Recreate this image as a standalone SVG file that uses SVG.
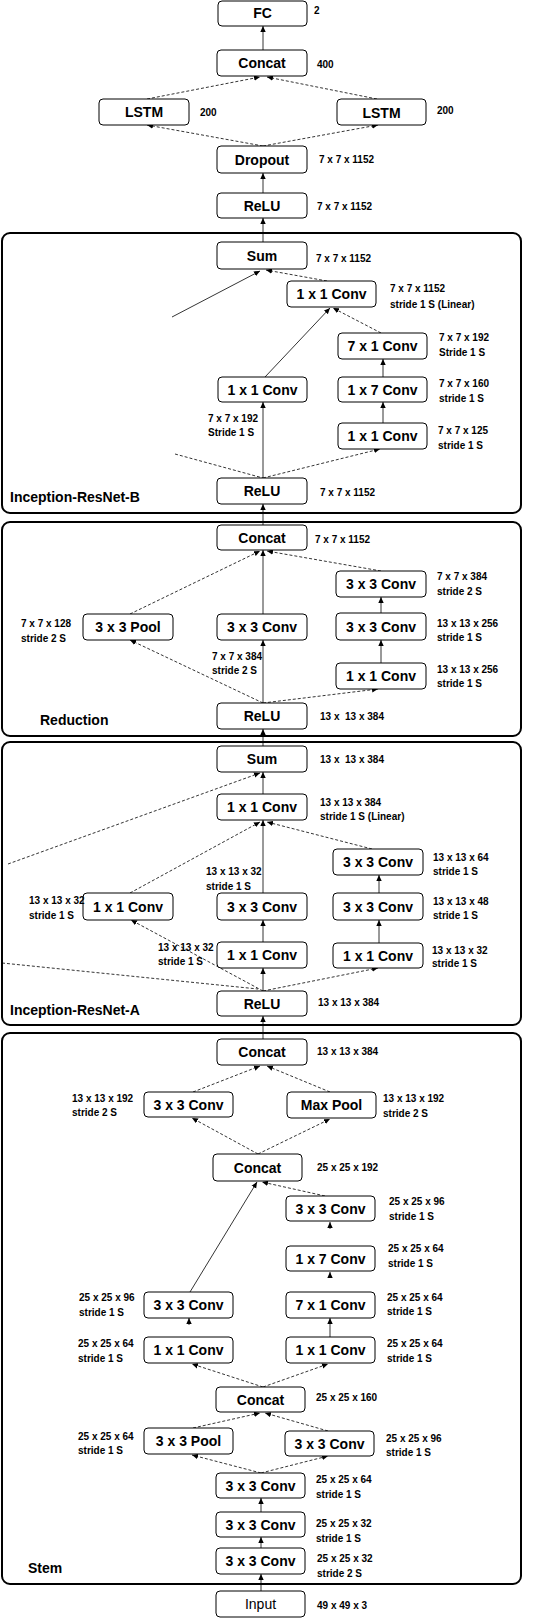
<svg xmlns="http://www.w3.org/2000/svg" width="544" height="1618" viewBox="0 0 544 1618">
<style>
.blk{fill:none;stroke:#000;stroke-width:2}
.n rect{fill:#fff;stroke:#000;stroke-width:1}
.t{font-family:"Liberation Sans",Arial,sans-serif;font-weight:bold;font-size:14px;text-anchor:middle}
.tn{font-family:"Liberation Sans",Arial,sans-serif;font-size:14px;text-anchor:middle}
.l{font-family:"Liberation Sans",Arial,sans-serif;font-weight:bold;font-size:10px}
.h{font-family:"Liberation Sans",Arial,sans-serif;font-weight:bold;font-size:14px}
.s{stroke:#000;stroke-width:0.8;fill:none;marker-end:url(#a)}
.d{stroke:#000;stroke-width:0.8;fill:none;stroke-dasharray:3 2;marker-end:url(#a)}
.dn{stroke:#000;stroke-width:0.8;fill:none;stroke-dasharray:3 2}
.sn{stroke:#000;stroke-width:0.8;fill:none}
</style>
<defs>
<marker id="a" viewBox="0 0 10 10" refX="10" refY="5" markerWidth="6" markerHeight="6" markerUnits="userSpaceOnUse" orient="auto"><path d="M0,0.5 L10,5 L0,9.5 z" fill="#000"/></marker>
</defs>
<rect width="544" height="1618" fill="#fff"/>

<g id="blocks">
<rect class="blk" x="2" y="233" width="519" height="280" rx="8"/>
<rect class="blk" x="2" y="522" width="519" height="214" rx="8"/>
<rect class="blk" x="2" y="742" width="519" height="283" rx="8"/>
<rect class="blk" x="2" y="1033" width="519" height="551" rx="8"/>
<text class="h" x="10" y="502">Inception-ResNet-B</text>
<text class="h" x="40" y="725">Reduction</text>
<text class="h" x="10" y="1015">Inception-ResNet-A</text>
<text class="h" x="28" y="1573">Stem</text>
</g>

<g id="connectors">
<!-- top -->
<line class="s" x1="263" y1="50" x2="263" y2="26"/>
<line class="d" x1="147" y1="99" x2="260" y2="77"/>
<line class="d" x1="377" y1="99" x2="267" y2="77"/>
<line class="d" x1="263" y1="146" x2="147" y2="125"/>
<line class="d" x1="263" y1="146" x2="378" y2="125"/>
<line class="s" x1="263" y1="193" x2="263" y2="173"/>
<line class="s" x1="263" y1="242" x2="263" y2="218"/>
<!-- block B -->
<line class="d" x1="327" y1="281" x2="266" y2="270"/>
<line class="s" x1="172" y1="317" x2="260" y2="271"/>
<line class="dn" x1="175" y1="454" x2="263" y2="478"/>
<line class="s" x1="265" y1="377" x2="330" y2="308"/>
<line class="d" x1="381" y1="333" x2="333" y2="308"/>
<line class="s" x1="383" y1="377" x2="383" y2="359"/>
<line class="s" x1="383" y1="423" x2="383" y2="402"/>
<line class="s" x1="263" y1="478" x2="263" y2="402"/>
<line class="d" x1="263" y1="478" x2="380" y2="449"/>
<line class="s" x1="263" y1="525" x2="263" y2="504"/>
<!-- reduction -->
<line class="d" x1="130" y1="614" x2="260" y2="551"/>
<line class="s" x1="263" y1="614" x2="263" y2="550"/>
<line class="d" x1="381" y1="571" x2="267" y2="551"/>
<line class="s" x1="381" y1="613" x2="381" y2="597"/>
<line class="s" x1="381" y1="663" x2="381" y2="640"/>
<line class="d" x1="263" y1="703" x2="130" y2="640"/>
<line class="s" x1="263" y1="703" x2="263" y2="640"/>
<line class="d" x1="263" y1="703" x2="378" y2="689"/>
<line class="s" x1="263" y1="746" x2="263" y2="729"/>
<!-- block A -->
<line class="s" x1="263" y1="794" x2="263" y2="772"/>
<line class="d" x1="8" y1="864" x2="260" y2="773"/>
<line class="dn" x1="2" y1="963" x2="258" y2="989"/>
<line class="d" x1="130" y1="893" x2="260" y2="822"/>
<line class="s" x1="263" y1="893" x2="263" y2="820"/>
<line class="d" x1="372" y1="849" x2="267" y2="822"/>
<line class="s" x1="379" y1="893" x2="379" y2="875"/>
<line class="s" x1="379" y1="943" x2="379" y2="920"/>
<line class="s" x1="263" y1="942" x2="263" y2="920"/>
<line class="d" x1="263" y1="991" x2="131" y2="920"/>
<line class="s" x1="263" y1="991" x2="263" y2="968"/>
<line class="d" x1="263" y1="991" x2="378" y2="968"/>
<line class="s" x1="263" y1="1039" x2="263" y2="1016"/>
<!-- stem -->
<line class="d" x1="193" y1="1092" x2="260" y2="1066"/>
<line class="d" x1="330" y1="1092" x2="267" y2="1066"/>
<line class="d" x1="258" y1="1154" x2="192" y2="1118"/>
<line class="d" x1="258" y1="1154" x2="330" y2="1119"/>
<line class="s" x1="190" y1="1292" x2="257" y2="1182"/>
<line class="d" x1="325" y1="1196" x2="262" y2="1182"/>
<line class="s" x1="330" y1="1229" x2="330" y2="1222"/>
<line class="s" x1="330" y1="1278" x2="330" y2="1272"/>
<line class="s" x1="189" y1="1325" x2="189" y2="1318"/>
<line class="s" x1="330" y1="1337" x2="330" y2="1318"/>
<line class="d" x1="263" y1="1387" x2="192" y2="1364"/>
<line class="d" x1="263" y1="1387" x2="328" y2="1364"/>
<line class="d" x1="193" y1="1428" x2="260" y2="1413"/>
<line class="d" x1="328" y1="1431" x2="265" y2="1413"/>
<line class="d" x1="261" y1="1473" x2="192" y2="1455"/>
<line class="d" x1="261" y1="1473" x2="328" y2="1456"/>
<line class="s" x1="261" y1="1512" x2="261" y2="1498"/>
<line class="s" x1="261" y1="1548" x2="261" y2="1537"/>
<line class="s" x1="261" y1="1591" x2="261" y2="1574"/>
</g>

<!-- top nodes -->
<g id="fc" class="n"><rect x="218" y="1" width="89" height="25" rx="4"/><text class="t" x="262.5" y="18">FC</text><text class="l" x="314" y="14">2</text></g>
<g id="concat_top" class="n"><rect x="217" y="50" width="90" height="26" rx="4"/><text class="t" x="262" y="68">Concat</text><text class="l" x="317" y="68">400</text></g>
<g id="lstm_l" class="n"><rect x="99" y="99" width="90" height="26" rx="4"/><text class="t" x="144" y="117">LSTM</text><text class="l" x="200" y="116">200</text></g>
<g id="lstm_r" class="n"><rect x="337" y="99" width="89" height="26" rx="4"/><text class="t" x="381.5" y="118">LSTM</text><text class="l" x="437" y="114">200</text></g>
<g id="dropout" class="n"><rect x="217" y="146" width="90" height="27" rx="4"/><text class="t" x="262" y="165">Dropout</text><text class="l" x="319" y="163">7 x 7 x 1152</text></g>
<g id="relu_top" class="n"><rect x="217" y="193" width="90" height="25" rx="4"/><text class="t" x="262" y="211">ReLU</text><text class="l" x="317" y="210">7 x 7 x 1152</text></g>

<!-- block B -->
<g id="b_sum" class="n"><rect x="217" y="242" width="90" height="27" rx="4"/><text class="t" x="262" y="261">Sum</text><text class="l" x="316" y="262">7 x 7 x 1152</text></g>
<g id="b_lin" class="n"><rect x="287" y="281" width="89" height="26" rx="4"/><text class="t" x="331.5" y="299">1 x 1 Conv</text><text class="l" x="390" y="292">7 x 7 x 1152</text><text class="l" x="390" y="308">stride 1 S (Linear)</text></g>
<g id="b_7x1" class="n"><rect x="338" y="333" width="89" height="26" rx="4"/><text class="t" x="382.5" y="351">7 x 1 Conv</text><text class="l" x="439" y="341">7 x 7 x 192</text><text class="l" x="439" y="356">Stride 1 S</text></g>
<g id="b_1x1l" class="n"><rect x="218" y="377" width="89" height="25" rx="4"/><text class="t" x="262.5" y="395">1 x 1 Conv</text><text class="l" x="208" y="422">7 x 7 x 192</text><text class="l" x="208" y="436">Stride 1 S</text></g>
<g id="b_1x7" class="n"><rect x="338" y="377" width="89" height="25" rx="4"/><text class="t" x="382.5" y="395">1 x 7 Conv</text><text class="l" x="439" y="387">7 x 7 x 160</text><text class="l" x="439" y="402">stride 1 S</text></g>
<g id="b_1x1r" class="n"><rect x="338" y="423" width="89" height="26" rx="4"/><text class="t" x="382.5" y="441">1 x 1 Conv</text><text class="l" x="438" y="434">7 x 7 x 125</text><text class="l" x="438" y="449">stride 1 S</text></g>
<g id="b_relu" class="n"><rect x="217" y="478" width="90" height="26" rx="4"/><text class="t" x="262" y="496">ReLU</text><text class="l" x="320" y="496">7 x 7 x 1152</text></g>

<!-- reduction -->
<g id="r_concat" class="n"><rect x="217" y="525" width="90" height="25" rx="4"/><text class="t" x="262" y="543">Concat</text><text class="l" x="315" y="543">7 x 7 x 1152</text></g>
<g id="r_3x3t" class="n"><rect x="336" y="571" width="90" height="26" rx="4"/><text class="t" x="381" y="589">3 x 3 Conv</text><text class="l" x="437" y="580">7 x 7 x 384</text><text class="l" x="437" y="595">stride 2 S</text></g>
<g id="r_pool" class="n"><rect x="83" y="614" width="90" height="26" rx="4"/><text class="t" x="128" y="632">3 x 3 Pool</text><text class="l" x="21" y="627">7 x 7 x 128</text><text class="l" x="21" y="642">stride 2 S</text></g>
<g id="r_3x3m" class="n"><rect x="217" y="614" width="90" height="26" rx="4"/><text class="t" x="262" y="632">3 x 3 Conv</text><text class="l" x="212" y="660">7 x 7 x 384</text><text class="l" x="212" y="674">stride 2 S</text></g>
<g id="r_3x3r" class="n"><rect x="336" y="613" width="90" height="27" rx="4"/><text class="t" x="381" y="632">3 x 3 Conv</text><text class="l" x="437" y="627">13 x 13 x 256</text><text class="l" x="437" y="641">stride 1 S</text></g>
<g id="r_1x1" class="n"><rect x="336" y="663" width="90" height="26" rx="4"/><text class="t" x="381" y="681">1 x 1 Conv</text><text class="l" x="437" y="673">13 x 13 x 256</text><text class="l" x="437" y="687">stride 1 S</text></g>
<g id="r_relu" class="n"><rect x="217" y="703" width="90" height="26" rx="4"/><text class="t" x="262" y="721">ReLU</text><text class="l" x="320" y="720" xml:space="preserve">13 x  13 x 384</text></g>

<!-- block A -->
<g id="a_sum" class="n"><rect x="217" y="746" width="90" height="26" rx="4"/><text class="t" x="262" y="764">Sum</text><text class="l" x="320" y="763" xml:space="preserve">13 x  13 x 384</text></g>
<g id="a_lin" class="n"><rect x="217" y="794" width="90" height="26" rx="4"/><text class="t" x="262" y="812">1 x 1 Conv</text><text class="l" x="320" y="806">13 x 13 x 384</text><text class="l" x="320" y="820">stride 1 S (Linear)</text></g>
<g id="a_3x3t" class="n"><rect x="333" y="849" width="90" height="26" rx="4"/><text class="t" x="378" y="867">3 x 3 Conv</text><text class="l" x="433" y="861">13 x 13 x 64</text><text class="l" x="433" y="875">stride 1 S</text></g>
<g id="a_1x1l" class="n"><rect x="83" y="893" width="90" height="27" rx="4"/><text class="t" x="128" y="912">1 x 1 Conv</text><text class="l" x="29" y="904">13 x 13 x 32</text><text class="l" x="29" y="919">stride 1 S</text></g>
<g id="a_3x3m" class="n"><rect x="217" y="893" width="90" height="27" rx="4"/><text class="t" x="262" y="912">3 x 3 Conv</text><text class="l" x="206" y="875">13 x 13 x 32</text><text class="l" x="206" y="890">stride 1 S</text></g>
<g id="a_3x3r" class="n"><rect x="333" y="893" width="90" height="27" rx="4"/><text class="t" x="378" y="912">3 x 3 Conv</text><text class="l" x="433" y="905">13 x 13 x 48</text><text class="l" x="433" y="919">stride 1 S</text></g>
<g id="a_1x1m" class="n"><rect x="217" y="942" width="90" height="26" rx="4"/><text class="t" x="262" y="960">1 x 1 Conv</text><text class="l" x="158" y="951">13 x 13 x 32</text><text class="l" x="158" y="965">stride 1 S</text></g>
<g id="a_1x1r" class="n"><rect x="333" y="943" width="90" height="25" rx="4"/><text class="t" x="378" y="961">1 x 1 Conv</text><text class="l" x="432" y="954">13 x 13 x 32</text><text class="l" x="432" y="967">stride 1 S</text></g>
<g id="a_relu" class="n"><rect x="217" y="991" width="90" height="25" rx="4"/><text class="t" x="262" y="1009">ReLU</text><text class="l" x="318" y="1006">13 x 13 x 384</text></g>

<!-- stem -->
<g id="s_concat1" class="n"><rect x="217" y="1039" width="90" height="26" rx="4"/><text class="t" x="262" y="1057">Concat</text><text class="l" x="317" y="1055">13 x 13 x 384</text></g>
<g id="s_3x3a" class="n"><rect x="144" y="1092" width="89" height="25" rx="4"/><text class="t" x="188.5" y="1110">3 x 3 Conv</text><text class="l" x="72" y="1102">13 x 13 x 192</text><text class="l" x="72" y="1116">stride 2 S</text></g>
<g id="s_maxpool" class="n"><rect x="287" y="1092" width="89" height="26" rx="4"/><text class="t" x="331.5" y="1110">Max Pool</text><text class="l" x="383" y="1102">13 x 13 x 192</text><text class="l" x="383" y="1117">stride 2 S</text></g>
<g id="s_concat2" class="n"><rect x="213" y="1154" width="89" height="27" rx="4"/><text class="t" x="257.5" y="1173">Concat</text><text class="l" x="317" y="1171">25 x 25 x 192</text></g>
<g id="s_3x3r" class="n"><rect x="286" y="1196" width="89" height="25" rx="4"/><text class="t" x="330.5" y="1214">3 x 3 Conv</text><text class="l" x="389" y="1205">25 x 25 x 96</text><text class="l" x="389" y="1220">stride 1 S</text></g>
<g id="s_1x7" class="n"><rect x="286" y="1246" width="89" height="25" rx="4"/><text class="t" x="330.5" y="1264">1 x 7 Conv</text><text class="l" x="388" y="1252">25 x 25 x 64</text><text class="l" x="388" y="1267">stride 1 S</text></g>
<g id="s_7x1" class="n"><rect x="286" y="1292" width="89" height="26" rx="4"/><text class="t" x="330.5" y="1310">7 x 1 Conv</text><text class="l" x="387" y="1301">25 x 25 x 64</text><text class="l" x="387" y="1315">stride 1 S</text></g>
<g id="s_3x3l" class="n"><rect x="144" y="1292" width="89" height="26" rx="4"/><text class="t" x="188.5" y="1310">3 x 3 Conv</text><text class="l" x="79" y="1301">25 x 25 x 96</text><text class="l" x="79" y="1316">stride 1 S</text></g>
<g id="s_1x1l" class="n"><rect x="144" y="1337" width="89" height="26" rx="4"/><text class="t" x="188.5" y="1355">1 x 1 Conv</text><text class="l" x="78" y="1347">25 x 25 x 64</text><text class="l" x="78" y="1362">stride 1 S</text></g>
<g id="s_1x1r" class="n"><rect x="286" y="1337" width="89" height="26" rx="4"/><text class="t" x="330.5" y="1355">1 x 1 Conv</text><text class="l" x="387" y="1347">25 x 25 x 64</text><text class="l" x="387" y="1362">stride 1 S</text></g>
<g id="s_concat3" class="n"><rect x="216" y="1387" width="89" height="25" rx="4"/><text class="t" x="260.5" y="1405">Concat</text><text class="l" x="316" y="1401">25 x 25 x 160</text></g>
<g id="s_pool" class="n"><rect x="144" y="1428" width="89" height="26" rx="4"/><text class="t" x="188.5" y="1446">3 x 3 Pool</text><text class="l" x="78" y="1440">25 x 25 x 64</text><text class="l" x="78" y="1454">stride 1 S</text></g>
<g id="s_3x3b" class="n"><rect x="285" y="1431" width="89" height="25" rx="4"/><text class="t" x="329.5" y="1449">3 x 3 Conv</text><text class="l" x="386" y="1442">25 x 25 x 96</text><text class="l" x="386" y="1456">stride 1 S</text></g>
<g id="s_conv3" class="n"><rect x="216" y="1473" width="89" height="25" rx="4"/><text class="t" x="260.5" y="1491">3 x 3 Conv</text><text class="l" x="316" y="1483">25 x 25 x 64</text><text class="l" x="316" y="1498">stride 1 S</text></g>
<g id="s_conv2" class="n"><rect x="216" y="1512" width="89" height="25" rx="4"/><text class="t" x="260.5" y="1530">3 x 3 Conv</text><text class="l" x="316" y="1527">25 x 25 x 32</text><text class="l" x="316" y="1542">stride 1 S</text></g>
<g id="s_conv1" class="n"><rect x="216" y="1548" width="89" height="26" rx="4"/><text class="t" x="260.5" y="1566">3 x 3 Conv</text><text class="l" x="317" y="1562">25 x 25 x 32</text><text class="l" x="317" y="1577">stride 2 S</text></g>
<g id="input" class="n"><rect x="216" y="1591" width="89" height="26" rx="4"/><text class="tn" x="260.5" y="1609">Input</text><text class="l" x="317" y="1609">49 x 49 x 3</text></g>
</svg>
